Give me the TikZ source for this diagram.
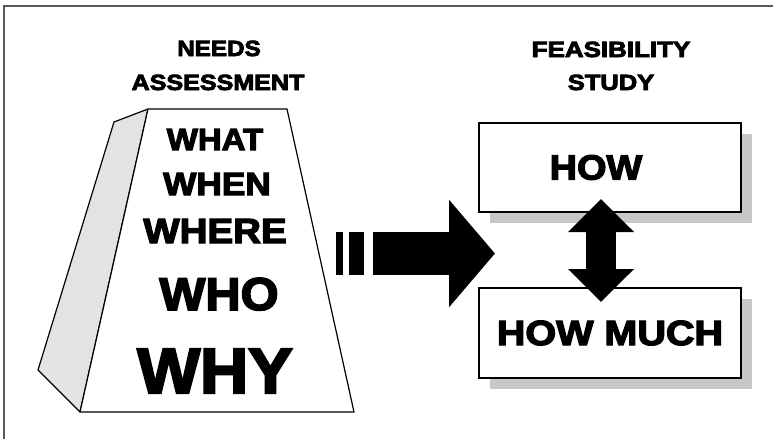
\documentclass[tikz,border=0pt]{standalone}
\usepackage{graphicx}
\usepackage{fontspec}
\newfontfamily\heavy{Liberation Sans Bold}[FakeBold=3.5]
\usetikzlibrary{arrows.meta,shadows}

\begin{document}
\begin{tikzpicture}[x=1pt,y=-1pt]
		\newcommand{\heavytext}[3]{{\fontsize{#1}{#1}\selectfont\scalebox{#2}[1]{#3}}}
		\newcommand{\bw}{262pt} % width of the boxes
		\newcommand{\sh}{11pt} % offset of the shadows

		% set the styles
		\tikzset{
			lbl/.style={inner sep=0, anchor=base, font=\heavy},
			box/.style={
				draw, line width=1.2pt, fill=white,
				minimum width=\bw, minimum height=89pt, inner sep=0,
				font=\heavy,
				drop shadow={shadow xshift=\sh, shadow yshift=-\sh, fill=black!22, opacity=1}
				},
			frame/.style={draw=black!65, line width=1.4pt}
		}

		\useasboundingbox (0,0) rectangle (773,439);

		% frame
		\draw[frame] (773,6) -- (4,6) -- (4,439);

		% needs assessment block
		\coordinate (tl) at (148,109);
		\coordinate (tr) at (287,109);
		\coordinate (br) at (354,412);
		\coordinate (bl) at (80,412);
		\coordinate (sb) at (114,122);
		\coordinate (sl) at (38,370);
		\filldraw[fill=black!11, line width=1.2pt, line join=round] (tl) -- (sb) -- (sl) -- (bl) -- cycle;
		\filldraw[fill=white, line width=1.2pt, line join=round] (tl) -- (tr) -- (br) -- (bl) -- cycle;

		% titles
		\node[lbl] (needs) at (219,56) {\heavytext{22}{1.1}{NEEDS}};
		\node[lbl] (assess) at (218,90) {\heavytext{22}{1.14}{ASSESSMENT}};
		\node[lbl] (feas) at (611,57) {\heavytext{22}{1.18}{FEASIBILITY}};
		\node[lbl] (study) at (611,90) {\heavytext{22}{1.16}{STUDY}};

		% questions
		\node[lbl] (what) at (215,150) {\heavytext{30.5}{1.08}{WHAT}};
		\node[lbl] (when) at (217,195) {\heavytext{32}{1.1}{WHEN}};
		\node[lbl] (where) at (215,243) {\heavytext{35}{1.1}{WHERE}};
		\node[lbl] (who) at (219,310) {\heavytext{46}{1.06}{WHO}};
		\node[lbl] (why) at (215,393) {\heavytext{64}{1.04}{WHY}};

		% big arrow
		\fill (336,232) rectangle (343,275);
		\fill (349,232) rectangle (364,275);
		\coordinate (tail) at (373,253.5);
		\coordinate (tip) at (495,253.5);
		\draw[line width=43pt, -{Triangle[width=105pt,length=46pt]}] (tail) -- (tip);

		% feasibility boxes
		\node[box] (how) at (610,167.5) {\heavytext{35}{1.08}{HOW}\hspace*{28pt}};
		\node[box, minimum height=90pt] (howmuch) at (610,333) {\heavytext{35}{1.13}{HOW MUCH}};

		% vertical double arrow
		\coordinate (up) at (601,199);
		\coordinate (down) at (601,302);
		\draw[line width=30pt, {Triangle[width=64pt,length=33pt]}-{Triangle[width=64pt,length=33pt]}] (up) -- (down);
\end{tikzpicture}
\end{document}
